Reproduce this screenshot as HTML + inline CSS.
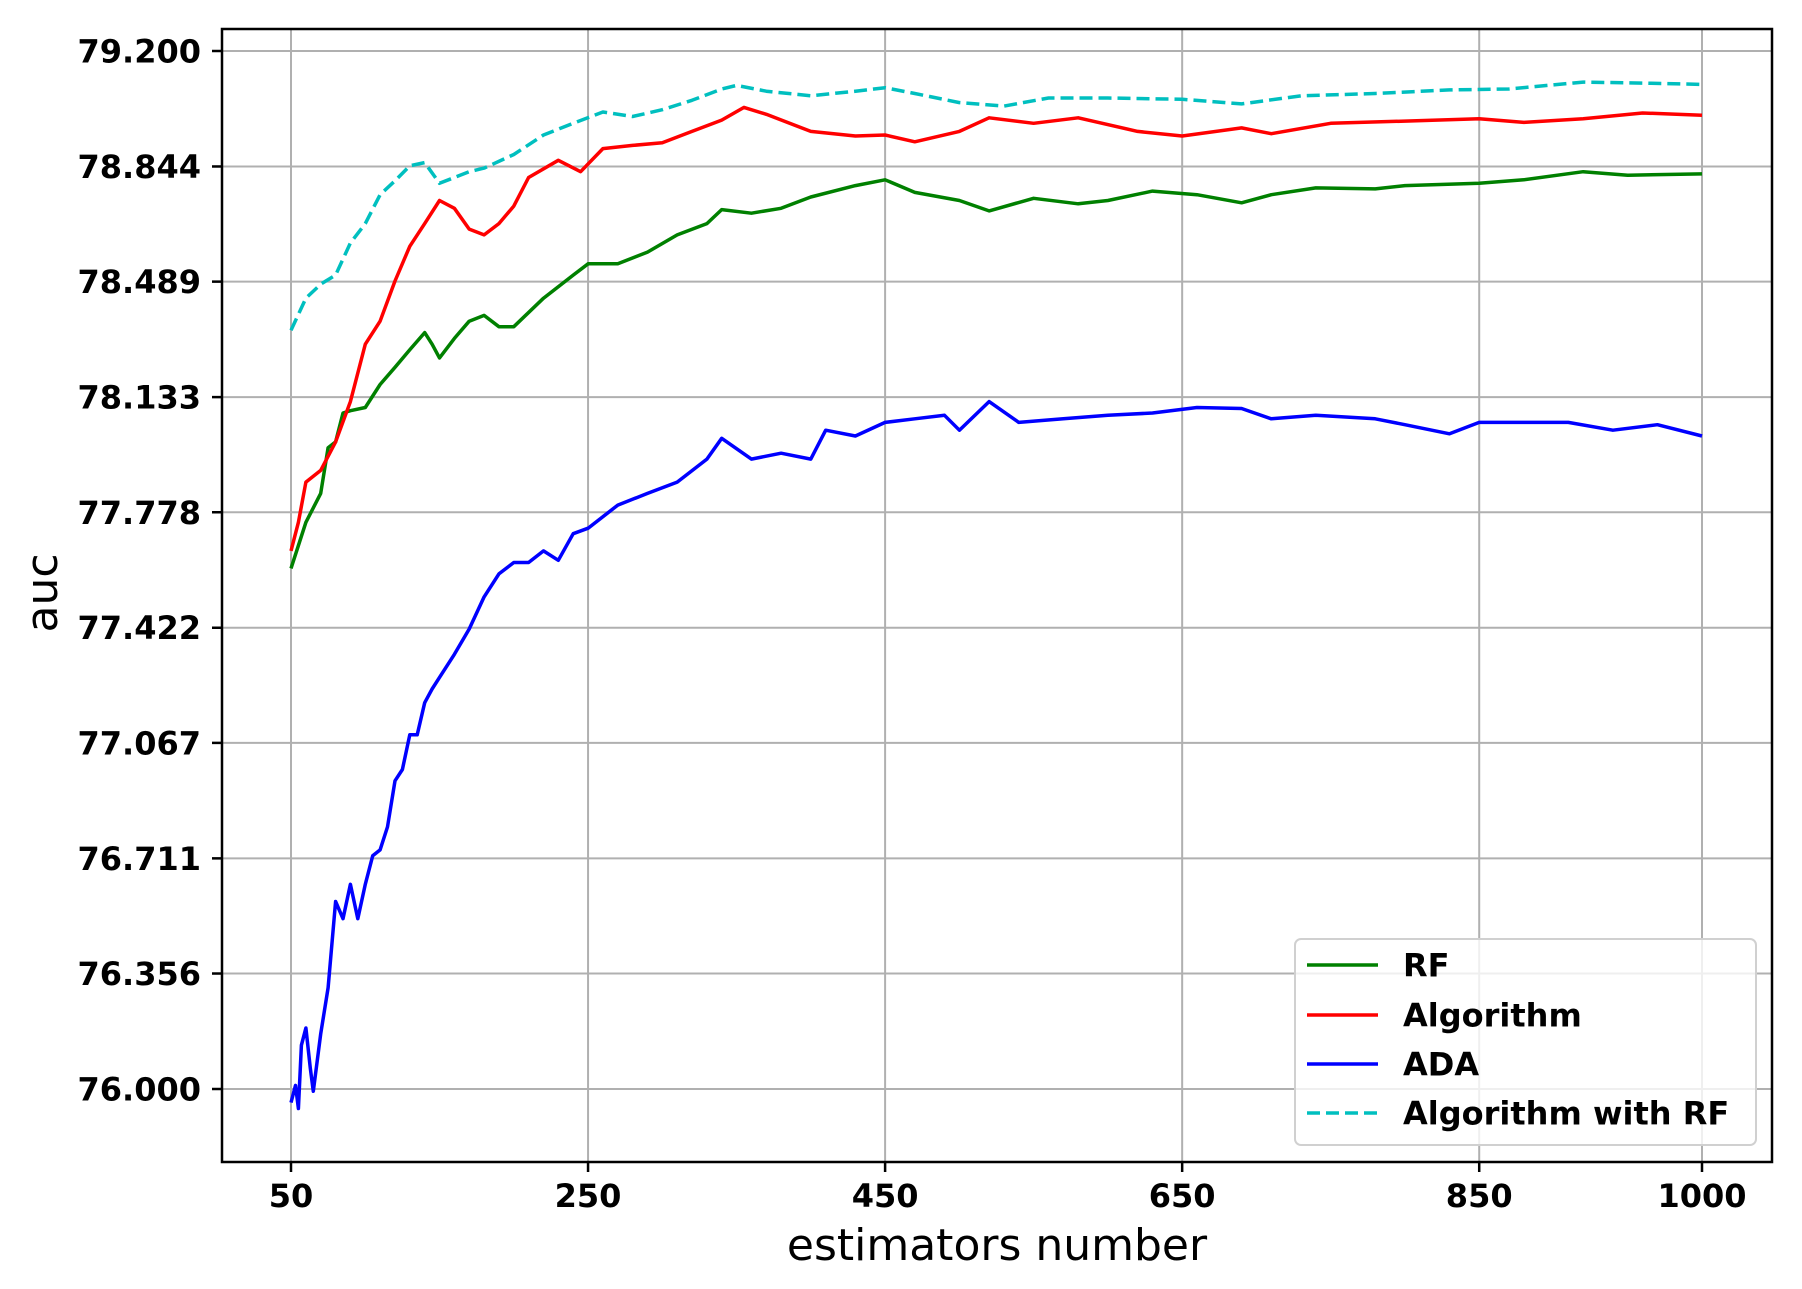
<!DOCTYPE html>
<html><head><meta charset="utf-8"><style>
html,body{margin:0;padding:0;background:#fff;}
svg{display:block;font-family:"DejaVu Sans","Liberation Sans",sans-serif;}
</style></head><body>
<svg id="chart" width="1802" height="1289" viewBox="0 0 1802 1289" xmlns="http://www.w3.org/2000/svg">
<rect x="0" y="0" width="1802" height="1289" fill="#fff"/>
<g id="grid"></g>
<g id="series"></g>
<rect x="222" y="29" width="1550" height="1133" fill="none" stroke="#000" stroke-width="2.5"/>
<g id="ticks"></g>
<text x="997" y="1260" font-size="44" text-anchor="middle">estimators number</text>
<text x="0" y="0" font-size="44" text-anchor="middle" transform="translate(57,593) rotate(-90)">auc</text>
<g id="legend">
<rect x="1295" y="939" width="461" height="206" rx="6" fill="#fff" fill-opacity="0.8" stroke="#d0d0d0" stroke-width="2"/>
</g>
</svg>
<script>
const xTicks = [50, 250, 450, 650, 850, 1000];
const yTicks = [79.2, 78.844, 78.489, 78.133, 77.778, 77.422, 77.067, 76.711, 76.356, 76.0];
const yTickLabels = ["79.200","78.844","78.489","78.133","77.778","77.422","77.067","76.711","76.356","76.000"];
const seriesNames = ["RF", "Algorithm", "ADA", "Algorithm with RF"];

const xRF = [50,60,70,75,80,85,90,100,110,120,130,140,145,150,160,170,180,190,200,220,240,250,270,290,310,330,340,360,380,400,430,450,470,500,520,550,580,600,630,660,690,710,740,780,800,850,880,920,950,1000];
const yRF = [77.605,77.747,77.836,77.977,77.995,78.084,78.091,78.101,78.172,78.225,78.279,78.332,78.296,78.254,78.314,78.367,78.385,78.350,78.350,78.438,78.509,78.544,78.544,78.580,78.633,78.668,78.711,78.700,78.715,78.750,78.785,78.803,78.764,78.739,78.707,78.746,78.729,78.739,78.768,78.757,78.732,78.757,78.778,78.775,78.785,78.792,78.803,78.828,78.817,78.821];

const xAlg = [50,55,60,70,80,90,100,110,120,130,140,150,160,170,180,190,200,210,230,245,260,280,300,320,340,355,370,400,430,450,470,500,520,550,580,620,650,690,710,750,800,850,880,920,960,1000];
const yAlg = [77.659,77.747,77.871,77.907,77.995,78.119,78.296,78.367,78.491,78.598,78.668,78.739,78.715,78.651,78.633,78.668,78.722,78.810,78.863,78.828,78.899,78.909,78.917,78.952,78.987,79.026,79.005,78.952,78.938,78.941,78.920,78.952,78.994,78.977,78.994,78.952,78.938,78.963,78.945,78.977,78.984,78.991,78.980,78.991,79.009,79.002];

const xAda = [50,53,55,57,60,63,65,70,75,80,85,90,95,100,105,110,115,120,125,130,135,140,145,150,160,170,180,190,200,210,220,230,240,250,270,290,310,330,340,360,380,400,410,430,450,470,490,500,520,540,570,600,630,660,690,710,740,780,800,830,850,880,910,940,970,1000];
const yAda = [75.958,76.011,75.940,76.135,76.188,76.064,75.993,76.170,76.312,76.578,76.525,76.631,76.525,76.631,76.719,76.737,76.808,76.950,76.985,77.092,77.092,77.191,77.233,77.269,77.340,77.418,77.517,77.588,77.623,77.623,77.659,77.630,77.712,77.729,77.800,77.836,77.871,77.942,78.006,77.942,77.960,77.942,78.031,78.013,78.055,78.066,78.077,78.031,78.119,78.055,78.066,78.077,78.084,78.101,78.098,78.066,78.077,78.066,78.048,78.020,78.055,78.055,78.055,78.031,78.048,78.013];

const xAlgRF = [50,60,70,80,90,100,110,120,130,140,150,160,170,180,200,220,240,260,280,300,320,340,350,370,400,430,450,470,500,530,560,600,650,690,730,780,830,870,920,960,1000];
const yAlgRF = [78.339,78.438,78.481,78.509,78.608,78.668,78.757,78.800,78.846,78.856,78.792,78.810,78.828,78.839,78.881,78.941,78.977,79.012,78.998,79.019,79.048,79.083,79.094,79.076,79.062,79.076,79.087,79.069,79.041,79.030,79.055,79.055,79.051,79.037,79.062,79.069,79.080,79.083,79.104,79.101,79.097];

const NS = "http://www.w3.org/2000/svg";
const X0 = 291, X1 = 1702, Y0 = 51, Y1 = 1089;
function xs(n){ return X0 + (n - 50) * (X1 - X0) / 950; }
function ys(v){ return Y0 + (79.2 - v) * (Y1 - Y0) / 3.2; }
function mk(tag, attrs){ const e = document.createElementNS(NS, tag); for (const k in attrs) e.setAttribute(k, attrs[k]); return e; }

const grid = document.getElementById('grid');
const ticks = document.getElementById('ticks');
xTicks.forEach(t => {
  const g = mk('line', {x1: xs(t), x2: xs(t), y1: 29, y2: 1162, stroke: '#b0b0b0', 'stroke-width': 2});
  
  
  grid.appendChild(g);
  const tk = mk('line', {x1: xs(t), x2: xs(t), y1: 1162, y2: 1172, stroke: '#000', 'stroke-width': 2.5});
  
  
  ticks.appendChild(tk);
  const lb = mk('text', {x: xs(t), y: 1207, 'font-size': 32, 'font-weight': 'bold', 'text-anchor': 'middle'});
  lb.textContent = String(t);
  
  
  ticks.appendChild(lb);
});
yTicks.forEach((t, i) => {
  const g = mk('line', {x1: 222, x2: 1772, y1: ys(t), y2: ys(t), stroke: '#b0b0b0', 'stroke-width': 2});
  
  
  grid.appendChild(g);
  const tk = mk('line', {x1: 212, x2: 222, y1: ys(t), y2: ys(t), stroke: '#000', 'stroke-width': 2.5});
  
  
  ticks.appendChild(tk);
  const lb = mk('text', {x: 201, y: ys(t) + 11.5, 'font-size': 32, 'font-weight': 'bold', 'text-anchor': 'end'});
  lb.textContent = yTickLabels[i];
  
  
  ticks.appendChild(lb);
});

const seriesDefs = [
  {xv: xRF, yv: yRF, color: '#008000', dash: null, name: 'line-rf'},
  {xv: xAlg, yv: yAlg, color: '#ff0000', dash: null, name: 'line-algorithm'},
  {xv: xAda, yv: yAda, color: '#0000ff', dash: null, name: 'line-ada'},
  {xv: xAlgRF, yv: yAlgRF, color: '#00bfbf', dash: '13,6', name: 'line-algorithm-with-rf'}
];
const sg = document.getElementById('series');
seriesDefs.forEach(s => {
  const pts = s.xv.map((n, i) => xs(n).toFixed(1) + ',' + ys(s.yv[i]).toFixed(1)).join(' ');
  const p = mk('polyline', {points: pts, fill: 'none', stroke: s.color, 'stroke-width': 3.5, 'stroke-linejoin': 'round'});
  if (s.dash) p.setAttribute('stroke-dasharray', s.dash);
  
  
  sg.appendChild(p);
});

const lg = document.getElementById('legend');
const rowY = [965, 1015, 1064, 1113];
seriesDefs.forEach((s, i) => {
  const l = mk('line', {x1: 1307, x2: 1378, y1: rowY[i], y2: rowY[i], stroke: s.color, 'stroke-width': 3.5});
  if (s.dash) l.setAttribute('stroke-dasharray', '13,6');
  
  
  lg.appendChild(l);
  const t = mk('text', {x: 1403, y: rowY[i] + 11.5, 'font-size': 32, 'font-weight': 'bold'});
  t.textContent = seriesNames[i];
  
  
  lg.appendChild(t);
});
</script>
</body></html>
